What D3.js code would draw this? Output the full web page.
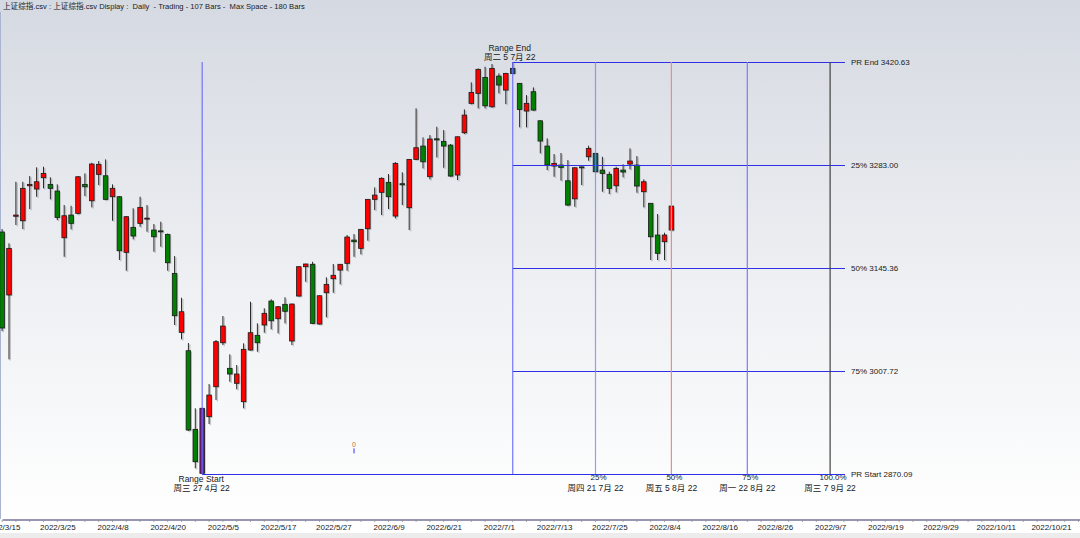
<!DOCTYPE html>
<html><head><meta charset="utf-8">
<script src="https://cdn.jsdelivr.net/npm/d3@7"></script>
<style>
body{margin:0;overflow:hidden;background:#fff}
svg{display:block}
text{font-family:"Liberation Sans",Arial,"Noto Sans CJK SC",sans-serif}
</style>
</head><body>
<svg id="c" width="1080" height="538"></svg>
<script>
// ---------------- DATA ----------------
const titleText = "上证综指.csv : 上证综指.csv Display :  Daily  - Trading - 107 Bars -  Max Space - 180 Bars";
const dates = ["2022/3/15","2022/3/16","2022/3/17","2022/3/18","2022/3/21","2022/3/22","2022/3/23","2022/3/24","2022/3/25","2022/3/28","2022/3/29","2022/3/30","2022/3/31",
"2022/4/1","2022/4/6","2022/4/7","2022/4/8","2022/4/11","2022/4/12","2022/4/13","2022/4/14","2022/4/15","2022/4/18","2022/4/19","2022/4/20","2022/4/21","2022/4/22","2022/4/25","2022/4/26","2022/4/27","2022/4/28","2022/4/29",
"2022/5/5","2022/5/6","2022/5/9","2022/5/10","2022/5/11","2022/5/12","2022/5/13","2022/5/16","2022/5/17","2022/5/18","2022/5/19","2022/5/20","2022/5/23","2022/5/24","2022/5/25","2022/5/26","2022/5/27","2022/5/30","2022/5/31",
"2022/6/1","2022/6/2","2022/6/6","2022/6/7","2022/6/8","2022/6/9","2022/6/10","2022/6/13","2022/6/14","2022/6/15","2022/6/16","2022/6/17","2022/6/20","2022/6/21","2022/6/22","2022/6/23","2022/6/24","2022/6/27","2022/6/28","2022/6/29","2022/6/30",
"2022/7/1","2022/7/4","2022/7/5","2022/7/6","2022/7/7","2022/7/8","2022/7/11","2022/7/12","2022/7/13","2022/7/14","2022/7/15","2022/7/18","2022/7/19","2022/7/20","2022/7/21","2022/7/22","2022/7/25","2022/7/26","2022/7/27","2022/7/28","2022/7/29",
"2022/8/1","2022/8/2","2022/8/3","2022/8/4","2022/8/5"];
const opens = [3193.4,3109.3,3214.5,3208.5,3255.3,3250.9,3266.0,3257.1,3248.2,3185.8,3216.1,3218.4,3257.1,3235.2,3270.5,3268.6,3240.6,3240.6,3166.3,3199.7,3205.0,3211.0,3196.1,3195.0,3190.3,3138.2,3059.4,3034.8,2929.8,2871.0,2946.7,2986.7,3045.5,3011.3,2991.3,2966.7,3035.8,3055.4,3069.2,3101.2,3077.6,3096.8,3047.8,3107.9,3147.1,3150.3,3070.5,3112.3,3131.0,3142.6,3151.6,3182.7,3171.6,3197.8,3237.1,3246.5,3259.8,3214.8,3258.0,3225.9,3290.5,3308.3,3267.3,3318.0,3314.6,3309.6,3269.6,3326.1,3365.4,3378.7,3400.1,3360.8,3401.8,3383.1,3412.1,3392.1,3355.1,3380.9,3342.1,3308.3,3281.6,3282.9,3261.9,3237.8,3280.5,3294.0,3298.6,3276.2,3270.5,3255.3,3276.2,3284.3,3282.9,3247.3,3231.8,3189.4,3180.5,3196.1];
const highs = [3197.4,3178.3,3260.6,3260.6,3268.2,3279.9,3280.7,3266.5,3257.1,3229.5,3228.5,3268.2,3271.8,3286.0,3288.3,3290.5,3257.1,3241.5,3214.8,3225.1,3240.6,3229.5,3204.1,3207.2,3191.4,3161.3,3105.6,3045.1,2957.9,2958.3,2990.3,3049.1,3081.2,3030.0,3015.7,3044.7,3100.3,3071.4,3091.5,3103.5,3094.5,3106.2,3097.9,3148.0,3151.2,3153.7,3108.6,3132.9,3150.7,3150.7,3189.4,3190.7,3197.4,3237.5,3253.1,3266.5,3270.9,3286.9,3273.2,3291.0,3358.7,3319.9,3323.0,3334.1,3329.7,3311.0,3321.0,3357.3,3393.4,3412.1,3414.3,3417.9,3405.4,3406.2,3420.63,3392.5,3376.4,3386.7,3342.4,3318.6,3297.6,3299.0,3289.6,3279.6,3281.0,3308.8,3299.0,3294.0,3274.0,3280.7,3283.9,3305.2,3294.9,3263.8,3232.2,3217.5,3192.5,3228.8];
const lows = [3061.1,3023.3,3202.8,3197.4,3224.1,3240.6,3251.8,3237.1,3209.4,3160.4,3197.0,3217.1,3241.5,3226.4,3256.2,3236.0,3208.5,3156.0,3141.7,3183.7,3200.5,3193.8,3167.1,3173.8,3141.7,3069.2,3050.1,2927.5,2877.7,2870.09,2936.9,2969.0,3042.4,2993.4,2983.3,2957.9,3035.0,3033.5,3058.9,3063.4,3058.1,3071.4,3042.4,3107.2,3127.0,3070.5,3069.8,3079.5,3112.3,3123.5,3141.7,3160.4,3163.6,3181.8,3222.8,3216.1,3224.1,3211.7,3229.5,3196.1,3290.0,3278.5,3263.8,3293.2,3279.3,3267.3,3262.9,3324.3,3364.0,3358.7,3358.7,3359.8,3378.7,3364.4,3404.5,3333.3,3333.3,3355.5,3298.6,3276.2,3267.3,3262.2,3228.1,3227.2,3256.2,3288.7,3273.6,3247.3,3244.2,3246.5,3266.5,3277.2,3245.9,3226.4,3156.0,3156.0,3156.0,3195.5];
const closes = [3065.2,3171.6,3216.1,3251.8,3257.1,3260.6,3271.8,3251.8,3213.0,3215.2,3205.0,3267.3,3253.9,3284.3,3283.9,3237.1,3251.8,3168.4,3213.9,3188.1,3226.4,3212.0,3187.1,3194.0,3152.4,3081.6,3086.9,2928.9,2886.5,2957.9,2975.6,3046.9,3067.8,3003.7,3003.7,3036.7,3058.9,3045.5,3084.8,3074.9,3093.6,3087.5,3097.2,3147.1,3150.7,3071.4,3108.3,3123.5,3135.6,3150.3,3186.7,3180.5,3197.0,3237.1,3242.8,3265.2,3240.6,3285.2,3256.5,3290.5,3306.1,3287.3,3317.7,3316.5,3308.3,3268.2,3320.7,3349.7,3380.0,3410.8,3362.1,3412.1,3389.8,3405.4,3405.4,3357.3,3365.4,3356.4,3315.0,3282.9,3285.2,3279.6,3229.5,3279.3,3279.4,3305.2,3274.0,3271.8,3251.8,3278.5,3273.6,3288.3,3254.9,3260.6,3187.1,3165.0,3189.4,3228.1];

const axisLabels = ["2022/3/15","2022/3/25","2022/4/8","2022/4/20","2022/5/5","2022/5/17","2022/5/27","2022/6/9","2022/6/21","2022/7/1","2022/7/13","2022/7/25","2022/8/4","2022/8/16","2022/8/26","2022/9/7","2022/9/19","2022/9/29","2022/10/11","2022/10/21"];

const rangeStartDate = "2022/4/27", rangeStartText = "周三 27 4月 22";
const rangeEndDate = "2022/7/5", rangeEndText = "周二 5 7月 22";
const priceLevelNames = ["PR End","25%","50%","75%","PR Start"];
const priceLevels = [3420.63, 3283.00, 3145.36, 3007.72, 2870.09];
const timeLevelDates = ["2022/7/21","2022/8/5","2022/8/22","2022/9/7"];
const timeLevelPct = ["25%","50%","75%","100.0%"];
const timeLevelText = ["周四 21 7月 22","周五 5 8月 22","周一 22 8月 22","周三 7 9月 22"];
const markerDates = ["2022/6/1"], markerPrices = [2907], markerTexts = ["0"];

// ---------------- SCALES ----------------
const svg = d3.select("#c");
const W = 1080, H = 538;
const parse = s => { const [y,m,d] = s.split("/").map(Number); return new Date(Date.UTC(y,m-1,d)); };
const fmt = d => `${d.getUTCFullYear()}/${d.getUTCMonth()+1}/${d.getUTCDate()}`;
const future = d3.utcDay.range(d3.utcDay.offset(parse(dates[dates.length-1]),1), new Date(Date.UTC(2022,10,8)))
  .filter(d => d.getUTCDay() % 6 !== 0).map(fmt);
const allDates = dates.concat(future);
const step = 6.9;
const x = d3.scalePoint().domain(allDates).range([2.1, 2.1 + step*(allDates.length-1)]);
const y = d3.scaleLinear().domain([priceLevels[4], priceLevels[0]]).range([474, 62]);

// ---------------- BACKGROUND ----------------
const defs = svg.append("defs");
const g0 = defs.append("linearGradient").attr("id","bg").attr("x1",0).attr("y1",0).attr("x2",0).attr("y2",1);
g0.append("stop").attr("offset","0%").attr("stop-color","#d5d9e1");
g0.append("stop").attr("offset","55%").attr("stop-color","#eef0f3");
g0.append("stop").attr("offset","100%").attr("stop-color","#ffffff");
svg.append("rect").attr("width",W).attr("height",519).attr("fill","url(#bg)");
svg.append("rect").attr("y",519).attr("width",W).attr("height",19).attr("fill","#ffffff");
svg.append("rect").attr("y",533).attr("width",W).attr("height",5).attr("fill","#ececec");
svg.append("line").attr("x1",0.5).attr("x2",0.5).attr("y1",12).attr("y2",519).attr("stroke","#a8b4d0").attr("stroke-width",1);

svg.append("text").attr("x",3).attr("y",9).attr("font-size",7.6).attr("fill","#202020")
  .style("white-space","pre").attr("xml:space","preserve").text(titleText);

// ---------------- CANDLES ----------------
const bars = dates.map((d,i)=>({d, o:opens[i], h:highs[i], l:lows[i], c:closes[i]}));
const bw = 4.6;
const special = {};
special[rangeStartDate] = "#7a1a8a";
special[rangeEndDate] = "#1d5f68";
special[timeLevelDates[0]] = "#1d5f68";
const colorOf = b => special[b.d] || (b.c >= b.o ? "#ff0000" : "#008000");

const sh = svg.append("g").attr("transform","translate(1.3,1.2)").attr("opacity",0.55);
sh.selectAll("line").data(bars).join("line")
  .attr("x1",b=>x(b.d)).attr("x2",b=>x(b.d)).attr("y1",b=>y(b.h)).attr("y2",b=>y(b.l))
  .attr("stroke","#9a9a9a").attr("stroke-width",1.4);
sh.selectAll("rect").data(bars).join("rect")
  .attr("x",b=>x(b.d)-bw/2).attr("width",bw)
  .attr("y",b=>y(Math.max(b.o,b.c))).attr("height",b=>Math.max(1,Math.abs(y(b.o)-y(b.c))))
  .attr("fill","#a0a0a0");

const cg = svg.append("g");
cg.selectAll("line").data(bars).join("line")
  .attr("x1",b=>x(b.d)).attr("x2",b=>x(b.d)).attr("y1",b=>y(b.h)).attr("y2",b=>y(b.l))
  .attr("stroke","#2a2a2a").attr("stroke-width",1);
cg.selectAll("rect").data(bars).join("rect")
  .attr("x",b=>x(b.d)-bw/2).attr("width",bw)
  .attr("y",b=>y(Math.max(b.o,b.c))).attr("height",b=>Math.max(1,Math.abs(y(b.o)-y(b.c))))
  .attr("fill",colorOf).attr("stroke","#1a1a1a").attr("stroke-width",0.8);

// ---------------- FIB / RANGE LINES ----------------
const lg = svg.append("g");
const xs = x(rangeStartDate), xe = x(rangeEndDate), xRight = 845;
const yTop = y(priceLevels[0]), yBot = y(priceLevels[4]);
priceLevels.forEach((p,i)=>{
  const x1 = (i === 4) ? xs : xe;
  lg.append("line").attr("x1",x1).attr("x2",xRight).attr("y1",Math.round(y(p))+0.5).attr("y2",Math.round(y(p))+0.5)
    .attr("stroke","#2f2fe8").attr("stroke-width",1);
  lg.append("text").attr("x",851).attr("y",y(p)+3).attr("font-size",8).attr("fill","#202020")
    .text(priceLevelNames[i] + " " + p.toFixed(2));
});
[xs, xe].forEach(xx=>{
  lg.append("line").attr("x1",xx).attr("x2",xx).attr("y1",yTop).attr("y2",yBot)
    .attr("stroke","#6a6aff").attr("stroke-width",1.3).attr("opacity",0.85);
});
const tColors = ["#7a7aff","#f08a8a","#7a7aff","#404040"];
timeLevelDates.forEach((d,i)=>{
  const xx = x(d);
  lg.append("line").attr("x1",xx).attr("x2",xx).attr("y1",yTop).attr("y2",yBot)
    .attr("stroke",tColors[i]).attr("stroke-width",1.2).attr("opacity", i===0 ? 0.75 : 1);
  lg.append("text").attr("x",xx+3).attr("y",480).attr("text-anchor","middle").attr("font-size",8).attr("fill","#202020").text(timeLevelPct[i]);
  lg.append("text").attr("x",xx).attr("y",491).attr("text-anchor","middle").attr("font-size",8.5).attr("fill","#202020").text(timeLevelText[i]);
});
lg.append("text").attr("x",xe-3).attr("y",50.5).attr("text-anchor","middle").attr("font-size",8.5).attr("fill","#202020").text("Range End");
lg.append("text").attr("x",xe-3).attr("y",60).attr("text-anchor","middle").attr("font-size",8.5).attr("fill","#202020").text(rangeEndText);
lg.append("text").attr("x",xs-1).attr("y",481.5).attr("text-anchor","middle").attr("font-size",8.5).attr("fill","#202020").text("Range Start");
lg.append("text").attr("x",xs-0.5).attr("y",491).attr("text-anchor","middle").attr("font-size",8.5).attr("fill","#202020").text(rangeStartText);

markerDates.forEach((d,i)=>{
  const xx = x(d), yy = y(markerPrices[i]);
  lg.append("line").attr("x1",xx).attr("x2",xx).attr("y1",yy+2).attr("y2",yy+7).attr("stroke","#3030ff").attr("stroke-width",1);
  lg.append("text").attr("x",xx).attr("y",yy+1).attr("text-anchor","middle").attr("font-size",7).attr("fill","#b07840").text(markerTexts[i]);
});

// ---------------- AXIS ----------------
const ax = svg.append("g").attr("transform","translate(0,519.5)")
  .call(d3.axisBottom(x).tickValues(axisLabels).tickSize(0).tickPadding(5).tickFormat(d=>d));
ax.select(".domain").attr("stroke","#303068").attr("stroke-width",1.2);
ax.selectAll("text").attr("font-size",8).attr("fill","#202020")
  .attr("font-family","'Liberation Sans',Arial,sans-serif");
const minor = allDates.filter((d,i)=> i % 2 === 0);
svg.append("g").selectAll("line").data(minor).join("line")
  .attr("x1",d=>x(d)).attr("x2",d=>x(d)).attr("y1",520).attr("y2",522)
  .attr("stroke","#909090").attr("stroke-width",0.8);
</script>
</body></html>
